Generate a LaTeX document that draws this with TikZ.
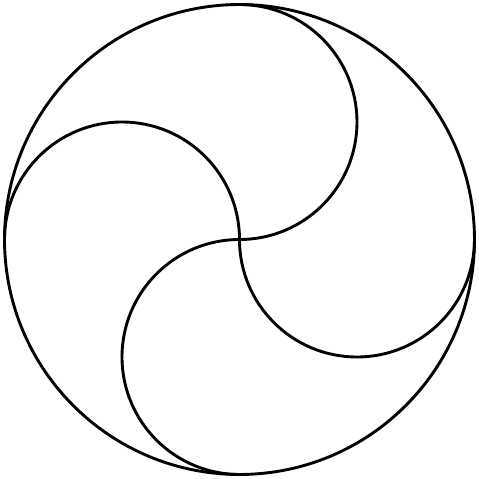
\documentclass[tikz,border=0pt]{standalone}
\usepackage{tikz}

\begin{document}
\begin{tikzpicture}[ring/.style = {draw, line width=1.4pt}]
		\useasboundingbox (-4.077,-4.077) rectangle (4.077,4.077);
		\coordinate (O) at (0,0);
		\draw[ring] (O) circle (4);
		\foreach \a in {0,90,180,270}
			\draw[ring, rotate=\a] (O) arc (-90:90:2);
	\end{tikzpicture}
\end{document}
